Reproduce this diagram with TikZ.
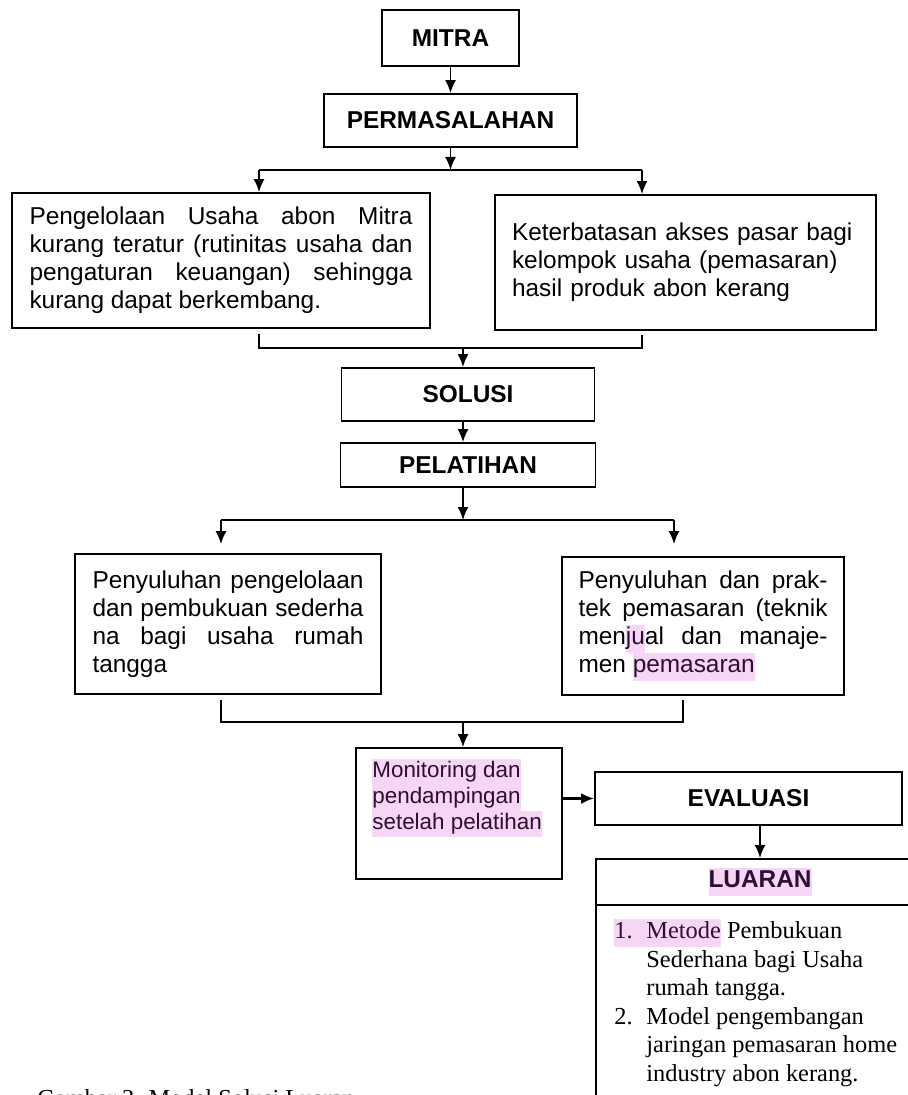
\documentclass[tikz,border=0pt]{standalone}
\usepackage{fontspec}
\usepackage{tikz}
\usepackage{color}
\setmainfont{Liberation Sans}
\newfontfamily\serifitem{Liberation Serif}
\usetikzlibrary{arrows.meta}
\definecolor{markpink}{RGB}{245,214,245}
\definecolor{markink}{RGB}{45,15,50}
\newcommand{\marked}[1]{{\setlength{\fboxsep}{0pt}\colorbox{markpink}{\strut\color{markink}#1}}}

\begin{document}
\begin{tikzpicture}[
    x=0.5pt, y=-0.5pt,
    every node/.style = {font=\fontsize{12.2}{14}\selectfont, inner sep=0pt},
    box/.style        = {draw, line width=0.9pt},
    head/.style       = {box, font=\fontsize{12.2}{14}\selectfont\bfseries},
    flow/.style       = {draw, line width=0.9pt, -{Latex[length=6.5pt,width=5.5pt]}},
    wire/.style       = {draw, line width=0.9pt},
]
\useasboundingbox (0,0) rectangle (908,1095);

\node [head, minimum width=68.5pt, minimum height=28pt] (mitra) at (450.5,38) {MITRA};
\node [head, minimum width=126.5pt, minimum height=26.5pt] (masalah) at (450.5,120.5) {PERMASALAHAN};
\node [box, minimum width=209pt, minimum height=67.5pt, text width=191.5pt, align=justify] (kelola) at (221,260.5)
  {Pengelolaan Usaha abon Mitra\linebreak kurang teratur (rutinitas usaha dan\linebreak pengaturan keuangan) sehingga\linebreak kurang dapat berkembang.};
\node [box, minimum width=190.5pt, minimum height=67.5pt, text width=173.5pt, align=left] (akses) at (685.5,262.5)
  {Keterbatasan akses pasar bagi\\ kelompok usaha (pemasaran)\\ hasil produk abon kerang};

\node [head, minimum width=126.5pt, minimum height=26.5pt] (solusi) at (468,394.5) {SOLUSI};
\node [head, minimum width=127.5pt, minimum height=22pt] (latih) at (468,465) {PELATIHAN};

\node [box, minimum width=153pt, minimum height=70pt, text width=135.5pt, align=justify] (buku) at (228,624)
  {Penyuluhan pengelolaan\linebreak dan pembukuan sederha\linebreak na bagi usaha rumah\linebreak tangga};
\node [box, minimum width=141pt, minimum height=69pt, text width=124.5pt, align=justify] (pasar) at (703,626)
  {Penyuluhan dan prak-\linebreak tek pemasaran (teknik\linebreak men\marked{ju}al dan manaje-\linebreak men \marked{pemasaran}};

\node [box, minimum width=103pt, minimum height=65.5pt] (monitor) at (459,813.5) {};
\node [anchor=north west, align=left, font=\fontsize{11.2}{13}\selectfont] (monitorisi) at (372,759)
  {\marked{Monitoring dan}\\ \marked{pendampingan}\\ \marked{setelah pelatihan}};

\node [head, minimum width=153.5pt, minimum height=26.5pt] (evaluasi) at (748.5,798.5) {EVALUASI};

\node [box, anchor=north west, minimum width=175pt, minimum height=140pt] (luaran) at (595,858) {};
\draw [wire] ([yshift=-23.5pt]luaran.north west) -- ([yshift=-23.5pt]luaran.north east);
\node [font=\fontsize{12.2}{14}\selectfont\bfseries] (luaranjudul) at (760,882) {\marked{LUARAN}};
\node [anchor=north west, align=left, font=\serifitem\fontsize{12.2}{14.25}\selectfont] (luaranisi) at (614,918.5)
  {\marked{\makebox[16pt][l]{1.}Metode} Pembukuan\\
   \hspace*{16pt}Sederhana bagi Usaha\\
   \hspace*{16pt}rumah tangga.\\
   \makebox[16pt][l]{2.}Model pengembangan\\
   \hspace*{16pt}jaringan pemasaran home\\
   \hspace*{16pt}industry abon kerang.};

\node [anchor=north west, font=\serifitem\fontsize{12.2}{14}\selectfont] (gambar) at (37,1089) {Gambar 2. Model Solusi Luaran};

\coordinate (kiri1) at (259,170);
\coordinate (kanan1) at (642,170);
\coordinate (kiri2) at (259,348);
\coordinate (kanan2) at (642,348);
\coordinate (tengah2) at (463,348);
\coordinate (kiri3) at (221,520);
\coordinate (kanan3) at (674,520);
\coordinate (tengah3) at (463,520);
\coordinate (kiri4) at (221,722);
\coordinate (kanan4) at (683,722);
\coordinate (tengah4) at (463,722);

\draw [flow] (mitra) -- (masalah);
\draw [flow] (masalah.south) -- (masalah.south |- kiri1);
\draw [wire] (kiri1) -- (kanan1);
\draw [flow] (kiri1) -- (kiri1 |- kelola.north);
\draw [flow] (kanan1) -- (kanan1 |- akses.north);

\draw [wire, shorten <=2.5pt, shorten >=2pt] (kelola.south -| kiri2) -- (kiri2) -- (kanan2) -- (akses.south -| kanan2);
\draw [flow] (tengah2) -- (tengah2 |- solusi.north);
\draw [flow] (solusi.south -| tengah2) -- (latih.north -| tengah2);

\draw [flow] (latih.south -| tengah3) -- (tengah3);
\draw [wire] (kiri3) -- (kanan3);
\draw [flow, shorten >=4.5pt] (kiri3) -- (kiri3 |- buku.north);
\draw [flow, shorten >=6pt] (kanan3) -- (kanan3 |- pasar.north);

\draw [wire, shorten <=2.5pt, shorten >=2pt] (buku.south -| kiri4) -- (kiri4) -- (kanan4) -- (pasar.south -| kanan4);
\draw [flow] (tengah4) -- (tengah4 |- monitor.north);
\draw [flow, line width=1.3pt] (monitor.east |- evaluasi.west) -- (evaluasi.west);
\draw [flow] ([xshift=5.75pt]evaluasi.south) -- ([xshift=5.75pt]evaluasi.south |- luaran.north);
\end{tikzpicture}
\end{document}
